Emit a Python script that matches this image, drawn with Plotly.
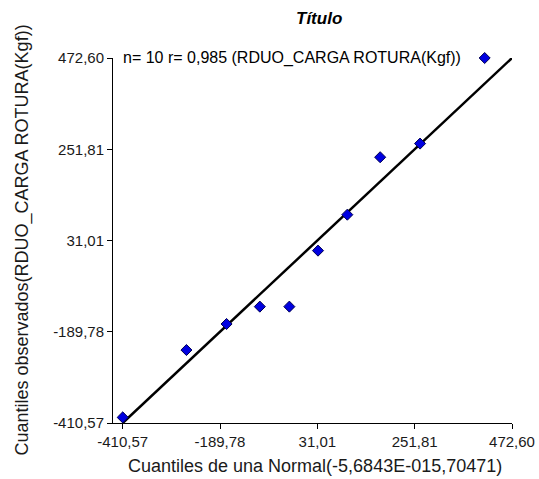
import plotly.graph_objects as go

# Normal quantiles (x) and observed quantiles (y)
normal_q = [-410.57, -266.0, -175.0, -99.5, -32.5, 32.5, 99.0, 173.5, 264.0, 410.6]
observed_q = [-397.0, -234.0, -171.0, -129.0, -129.0, 6.5, 93.5, 232.5, 265.5, 472.6]

ref_line_x = [-410.57, 472.60]
ref_line_y = [-410.57, 472.60]

tick_vals = [-410.57, -189.78, 31.01, 251.81, 472.60]
tick_text = ["-410,57", "-189,78", "31,01", "251,81", "472,60"]

title_text = "<b><i>Título</i></b>"
info_text = "n= 10 r= 0,985 (RDUO_CARGA ROTURA(Kgf))"
x_title = "Cuantiles de una Normal(-5,6843E-015,70471)"
y_title = "Cuantiles observados(RDUO_CARGA ROTURA(Kgf))"

FONT = "Liberation Sans, Arial, sans-serif"

fig = go.Figure()
fig.add_trace(go.Scatter(
    x=ref_line_x, y=ref_line_y, mode="lines",
    line=dict(color="black", width=2.5), hoverinfo="skip", showlegend=False,
))
fig.add_trace(go.Scatter(
    x=normal_q, y=observed_q, mode="markers",
    marker=dict(symbol="diamond", size=8.5, color="#0000E0",
                line=dict(color="#000050", width=1)),
    cliponaxis=False, showlegend=False,
))

axis_common = dict(
    showgrid=False, zeroline=False, showline=True, linecolor="black", linewidth=1,
    ticks="outside", ticklen=5, tickcolor="black", tickwidth=1,
    tickvals=tick_vals, ticktext=tick_text,
    tickfont=dict(family=FONT, size=15, color="#1a1a1a"),
    ticklabeloverflow="allow", automargin=False,
)

fig.update_layout(
    width=539, height=479,
    margin=dict(l=113, r=27, t=58, b=56),
    paper_bgcolor="white", plot_bgcolor="white",
    xaxis=dict(range=[-432.6, 472.6], **axis_common),
    yaxis=dict(range=[-410.57, 472.6], **axis_common),
    annotations=[
        dict(text=title_text, xref="paper", yref="paper", x=0.5, y=1,
             xshift=6, yshift=40, showarrow=False, xanchor="center", yanchor="middle",
             font=dict(family=FONT, size=17, color="black")),
        dict(text=info_text, xref="paper", yref="paper", x=0.02, y=1,
             showarrow=False, xanchor="left", yanchor="middle",
             font=dict(family=FONT, size=16, color="black")),
        dict(text=x_title, xref="paper", yref="paper", x=0.5, y=0,
             xshift=2, yshift=-43, showarrow=False, xanchor="center", yanchor="middle",
             font=dict(family=FONT, size=18, color="#1a1a1a")),
        dict(text=y_title, xref="paper", yref="paper", x=0, y=0.5,
             xshift=-91, yshift=0, showarrow=False, textangle=-90,
             xanchor="center", yanchor="middle",
             font=dict(family=FONT, size=18, color="#1a1a1a")),
    ],
)

post = (
    "document.body.style.margin='0';"
    "document.body.style.overflow='hidden';"
    "Plotly.relayout(document.getElementById('{plot_id}'), {width: 539, height: 479});"
)

fig.write_html("out.html", post_script=post, config={"displayModeBar": False})
